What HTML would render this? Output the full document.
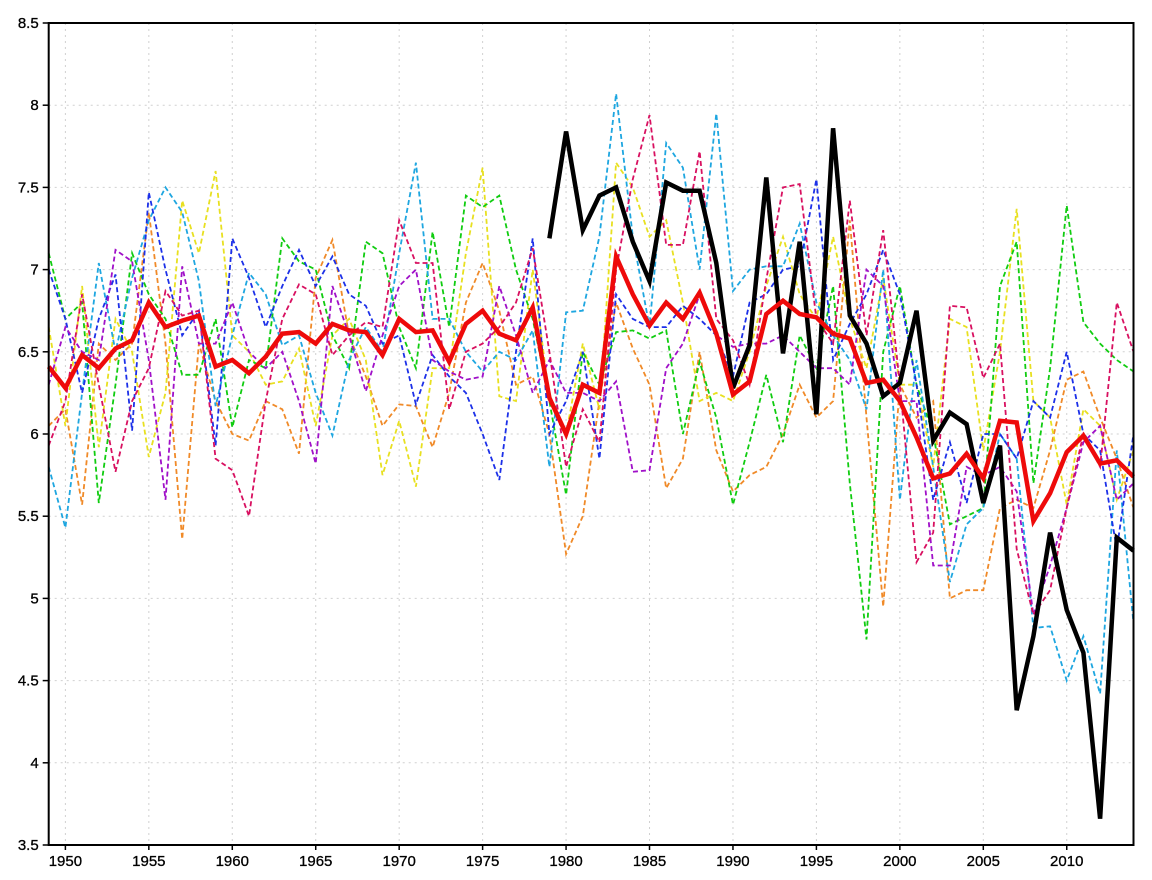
<!DOCTYPE html>
<html><head><meta charset="utf-8"><style>
html,body{margin:0;padding:0;background:#fff;}
svg{display:block;}
text{font-family:"Liberation Sans",Arial,sans-serif;font-size:15px;fill:#000;stroke:#000;stroke-width:0.3px;}
</style></head><body>
<svg id="chart" width="1152" height="880" viewBox="0 0 1152 880" xmlns="http://www.w3.org/2000/svg">
<g id="grid"></g>
<g id="series"></g>
<g id="axes"></g>
</svg>
<script>
const years = [];
for (let y = 1949; y <= 2014; y++) years.push(y);
const yTicks = [3.5,4,4.5,5,5.5,6,6.5,7,7.5,8,8.5];
const yTickLabels = ["3.5","4","4.5","5","5.5","6","6.5","7","7.5","8","8.5"];
const xTicks = [1950,1955,1960,1965,1970,1975,1980,1985,1990,1995,2000,2005,2010];
const xTickLabels = ["1950","1955","1960","1965","1970","1975","1980","1985","1990","1995","2000","2005","2010"];

const green = [7.1,6.7,6.8,5.58,6.3,7.1,6.85,6.7,6.36,6.36,6.7,6.04,6.45,6.4,7.19,7.05,7.0,6.6,6.4,7.17,7.1,6.65,6.4,7.23,6.65,7.45,7.38,7.45,7.0,6.7,6.2,5.63,6.5,6.3,6.62,6.63,6.58,6.63,6.0,6.44,6.1,5.57,5.95,6.36,5.95,6.6,6.4,6.9,5.7,4.75,6.5,6.9,6.3,6.0,5.45,5.5,5.55,6.9,7.17,5.7,6.4,7.39,6.68,6.55,6.45,6.38];
const crimson = [5.93,6.2,6.85,6.3,5.77,6.2,6.4,6.87,6.72,6.75,5.85,5.78,5.5,6.2,6.7,6.91,6.85,6.48,6.6,6.68,6.65,7.3,7.04,7.04,6.15,6.5,6.55,6.65,6.8,7.13,6.5,5.8,6.15,5.95,7.0,7.55,7.94,7.15,7.15,7.72,6.7,6.57,6.3,6.94,7.5,7.52,6.7,6.55,7.42,6.6,7.24,6.3,5.22,5.4,6.78,6.77,6.34,6.55,5.3,4.9,5.05,5.55,6.0,5.8,6.8,6.5];
const blue = [7.0,6.7,6.25,6.7,6.97,6.02,7.47,7.0,6.6,6.75,5.93,7.19,6.95,6.65,6.9,7.12,6.9,7.08,6.85,6.78,6.55,6.6,6.18,6.48,6.35,6.25,6.0,5.72,6.5,7.19,6.0,6.2,6.5,5.85,6.85,6.7,6.65,6.65,6.78,6.7,6.6,6.35,6.8,6.85,7.0,7.02,7.55,6.45,6.67,6.85,7.12,6.85,6.3,5.6,5.95,5.58,6.0,6.0,5.85,6.2,6.1,6.5,6.0,5.9,5.3,6.0];
const sky = [5.8,5.43,6.25,7.04,6.5,6.95,7.3,7.5,7.35,6.93,6.17,6.6,6.98,6.85,6.54,6.6,6.25,5.99,6.45,6.65,6.5,7.1,7.65,6.7,6.7,6.5,6.38,6.5,6.45,6.63,5.8,6.74,6.75,7.2,8.07,7.2,6.65,7.77,7.62,7.0,7.95,6.87,7.0,7.02,7.02,7.28,6.8,6.6,6.45,6.15,7.0,5.6,6.45,5.8,5.1,5.45,5.55,6.0,5.85,4.82,4.83,4.5,4.77,4.42,5.9,4.85];
const yellow = [6.65,6.05,6.9,5.92,6.7,6.5,5.86,6.25,7.42,7.1,7.6,6.6,6.5,6.3,6.32,6.52,6.05,6.6,6.7,6.45,5.75,6.08,5.68,6.4,6.4,7.1,7.62,6.23,6.2,7.0,6.22,6.0,6.55,6.15,7.65,7.5,7.2,7.3,6.8,6.2,6.25,6.2,6.5,6.9,7.2,6.85,6.7,7.2,6.7,6.4,6.95,6.3,6.3,5.8,6.7,6.65,5.9,6.5,7.37,6.2,6.1,5.57,6.15,6.05,5.6,5.9];
const orange = [6.05,6.15,5.57,6.55,6.45,6.55,7.35,6.55,5.36,6.55,6.2,6.0,5.96,6.2,6.15,5.88,6.95,7.18,6.6,6.35,6.05,6.18,6.17,5.92,6.25,6.8,7.04,6.75,6.3,6.35,6.0,5.27,5.5,6.2,6.8,6.52,6.3,5.67,5.85,6.5,5.9,5.65,5.75,5.8,6.0,6.3,6.1,6.2,7.3,6.1,4.95,6.3,6.1,6.2,5.0,5.05,5.05,5.55,5.6,5.55,5.9,6.33,6.38,6.1,5.85,5.55];
const purple = [6.3,6.65,6.5,6.45,7.12,7.05,6.45,5.6,7.02,6.55,6.55,6.8,6.5,6.4,6.5,6.2,5.82,6.9,6.6,6.26,6.6,6.9,7.0,6.45,6.38,6.33,6.35,6.9,6.6,6.25,6.45,6.25,6.25,6.2,6.32,5.77,5.78,6.4,6.55,6.85,6.6,6.53,6.55,6.55,6.6,6.5,6.4,6.4,6.3,7.0,6.9,6.2,6.2,5.2,5.2,5.8,5.75,5.8,5.65,4.9,5.2,5.55,5.95,6.05,5.6,5.7];
const ensembleMean = [6.41,6.28,6.48,6.40,6.52,6.57,6.80,6.65,6.69,6.72,6.41,6.45,6.37,6.47,6.61,6.62,6.55,6.67,6.63,6.62,6.48,6.70,6.62,6.63,6.44,6.67,6.75,6.61,6.57,6.77,6.22,6.00,6.30,6.25,7.08,6.85,6.66,6.80,6.70,6.86,6.61,6.24,6.32,6.73,6.81,6.73,6.71,6.61,6.58,6.31,6.33,6.20,5.98,5.73,5.76,5.88,5.73,6.08,6.07,5.47,5.64,5.89,5.99,5.82,5.84,5.74];
const obsYears = [];
for (let y = 1979; y <= 2014; y++) obsYears.push(y);
const observed = [7.19,7.84,7.24,7.45,7.50,7.17,6.93,7.53,7.48,7.48,7.04,6.28,6.54,7.56,6.49,7.17,6.12,7.86,6.72,6.55,6.23,6.31,6.75,5.96,6.13,6.06,5.58,5.93,4.32,4.77,5.40,4.93,4.67,3.66,5.37,5.29];

const L=48.7, R=1133.5, T=23, B=845;
const x0=1949, x1=2014, ymin=3.5, ymax=8.5;
function sx(v){return L+(v-x0)/(x1-x0)*(R-L);}
function sy(v){return B-(v-ymin)/(ymax-ymin)*(B-T);}
const NS="http://www.w3.org/2000/svg";
function mk(tag,attrs,parent){const e=document.createElementNS(NS,tag);for(const k in attrs)e.setAttribute(k,attrs[k]);parent.appendChild(e);return e;}

const grid=document.getElementById('grid');
yTicks.forEach((v,i)=>{
  if(v===ymin||v===ymax)return;
  const l=mk('line',{x1:L,x2:R,y1:sy(v),y2:sy(v),stroke:'#d0d0d0','stroke-width':1,'stroke-dasharray':'2,4'},grid);
  
  
});
xTicks.forEach(v=>{
  const l=mk('line',{x1:sx(v),x2:sx(v),y1:T,y2:B,stroke:'#d0d0d0','stroke-width':1,'stroke-dasharray':'2,4'},grid);
  
  
});

const sg=document.getElementById('series');
function drawLine(xs,vals,color,width,dash,name){
  const pts=vals.map((v,i)=>sx(xs[i]).toFixed(1)+','+sy(v).toFixed(1)).join(' ');
  const attrs={points:pts,fill:'none',stroke:color,'stroke-width':width,'stroke-linejoin':'miter','stroke-miterlimit':4};
  if(dash)attrs['stroke-dasharray']=dash;
  const p=mk('polyline',attrs,sg);
  
  
}
drawLine(years,orange,'#f08a28',1.8,'5,3','series-orange');
drawLine(years,yellow,'#e8e020',1.8,'5,3','series-yellow');
drawLine(years,green,'#10cc10',1.8,'5,3','series-green');
drawLine(years,sky,'#1ea6e0',1.8,'5,3','series-skyblue');
drawLine(years,blue,'#1c30e8',1.8,'5,3','series-blue');
drawLine(years,purple,'#a010c8',1.8,'5,3','series-purple');
drawLine(years,crimson,'#d81060',1.8,'5,3','series-crimson');
drawLine(obsYears,observed,'#000000',4.5,null,'observed-line');
drawLine(years,ensembleMean,'#ee0a0a',4.5,null,'ensemble-mean-line');

const ax=document.getElementById('axes');
const frame=mk('rect',{x:L,y:T,width:R-L,height:B-T,fill:'none',stroke:'#000','stroke-width':2},ax);


yTicks.forEach((v,i)=>{
  const t=mk('line',{x1:L-6,x2:L,y1:sy(v),y2:sy(v),stroke:'#000','stroke-width':1.5},ax);
  
  
  const tx=mk('text',{x:L-10,y:sy(v)+5,'text-anchor':'end'},ax);
  tx.textContent=yTickLabels[i];
  
  
});
xTicks.forEach((v,i)=>{
  const t=mk('line',{x1:sx(v),x2:sx(v),y1:B,y2:B+5,stroke:'#000','stroke-width':1.5},ax);
  
  
  const tx=mk('text',{x:sx(v),y:866,'text-anchor':'middle'},ax);
  tx.textContent=xTickLabels[i];
  
  
});
</script>
</body></html>
